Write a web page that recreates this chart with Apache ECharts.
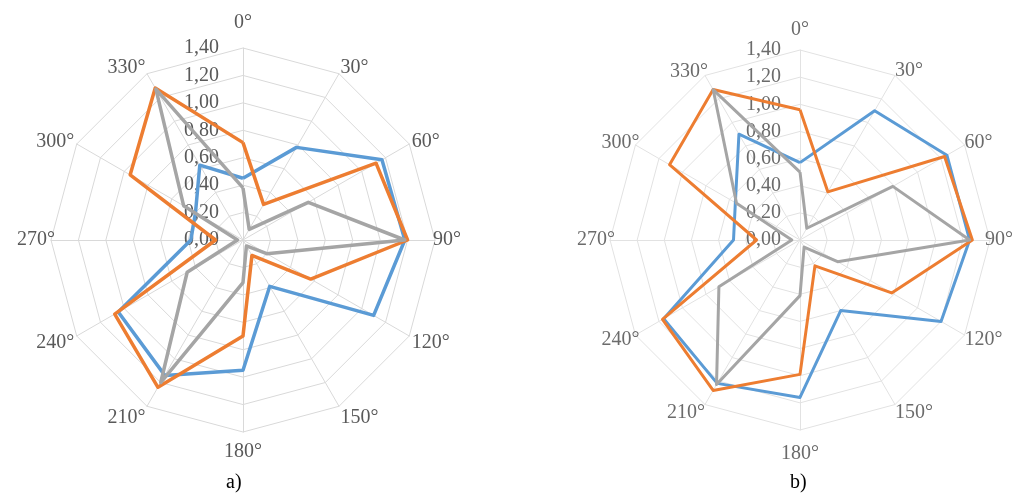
<!DOCTYPE html>
<html>
<head>
<meta charset="utf-8">
<script src="https://cdn.jsdelivr.net/npm/echarts@6/dist/echarts.min.js"></script>
<style>
  html, body { margin: 0; padding: 0; background: #fff; }
  #wrap { position: relative; width: 1017px; height: 494px; overflow: hidden; }
  #chartA { position: absolute; left: 0; top: 0; width: 510px; height: 494px; }
  #chartB { position: absolute; left: 510px; top: 0; width: 507px; height: 494px; filter: blur(0.6px); }
</style>
</head>
<body>
<div id="wrap">
  <div id="chartA"></div>
  <div id="chartB"></div>
</div>
<script>
// Direction labels, clockwise from the top
const directions = ['0°', '30°', '60°', '90°', '120°', '150°', '180°', '210°', '240°', '270°', '300°', '330°'];

// Radial scale
const radialMin = 0;
const radialMax = 1.4;
const radialStep = 0.2;

// Panel a)
const aBlue   = [0.45, 0.78, 1.17, 1.18, 1.10, 0.39, 0.95, 1.14, 1.05, 0.38, 0.40, 0.63];
const aOrange = [0.71, 0.30, 1.12, 1.20, 0.57, 0.13, 0.70, 1.24, 1.08, 0.20, 0.95, 1.28];
const aGray   = [0.38, 0.09, 0.55, 1.18, 0.20, 0.05, 0.31, 1.20, 0.47, 0.04, 0.50, 1.27];

// Panel b)
const bBlue   = [0.57, 1.10, 1.25, 1.25, 1.20, 0.60, 1.16, 1.22, 1.16, 0.49, 0.55, 0.90];
const bOrange = [0.96, 0.41, 1.23, 1.27, 0.78, 0.22, 0.99, 1.28, 1.17, 0.32, 1.11, 1.28];
const bGray   = [0.50, 0.10, 0.79, 1.25, 0.32, 0.06, 0.41, 1.23, 0.69, 0.06, 0.54, 1.28];

const colors = ['#5B9BD5', '#ED7D31', '#A5A5A5'];
const serif = '"Liberation Serif", "DejaVu Serif", serif';

// Per-direction padding [top, right, bottom, left] that nudges each
// compass label so its nearest corner sits on the outer ring.
const namePadA = {
  '0°': [0, 0, 12, 0],  '30°': [0, 0, 6, 0],   '60°': [0, 0, 2, 0],
  '90°': [0, 0, 0, -5], '120°': [10, 0, 0, 0], '150°': [18, 0, 0, 0],
  '180°': [7, 0, 0, 0], '210°': [18, 0, 0, 0], '240°': [10, 0, 0, 0],
  '270°': [0, -7, 0, 0], '300°': [0, 0, 2, 0], '330°': [0, 0, 6, 0]
};
const namePadB = {
  '0°': [0, 0, 10, 0],  '30°': [0, 0, 10, 0],  '60°': [0, 0, 4, 0],
  '90°': [0, 0, 0, -5], '120°': [10, 0, 0, 0], '150°': [16, 0, 0, 0],
  '180°': [14, 0, 0, 0], '210°': [16, 0, 0, 0], '240°': [10, -4, 0, 0],
  '270°': [0, -5, 0, 0], '300°': [0, -4, 4, 0], '330°': [0, -3, 8, 0]
};

// ECharts lays radar indicators out counter-clockwise, so walk the
// directions in reverse (after 0°) to get a clockwise compass.
const order = directions.map((_, i) => (directions.length - i) % directions.length);
const reorder = arr => order.map(i => arr[i]);

function fmt(v) {
  return v.toFixed(2).replace('.', ',');
}

const richKey = name => 'd' + parseInt(name, 10);

function buildOption(cfg) {
  const indicator = order.map((i, k) => {
    const ind = { name: directions[i], min: radialMin, max: radialMax };
    if (k === 0) {
      ind.axisLabel = {
        show: true,
        color: cfg.textColor,
        fontFamily: serif,
        fontSize: 20,
        margin: cfg.labelMargin,
        formatter: fmt
      };
    }
    return ind;
  });
  const nameStyle = { color: cfg.textColor, fontFamily: serif, fontSize: 20 };
  const rich = {};
  directions.forEach(d => {
    rich[richKey(d)] = Object.assign({}, nameStyle, { padding: cfg.namePad[d] });
  });
  return {
    animation: false,
    title: {
      text: cfg.caption,
      left: cfg.captionX,
      top: 468,
      textStyle: { fontFamily: serif, fontSize: 20, fontWeight: 'normal', color: '#000' }
    },
    radar: {
      center: cfg.center,
      radius: cfg.radius,
      startAngle: 90,
      shape: 'polygon',
      splitNumber: Math.round((radialMax - radialMin) / radialStep),
      indicator: indicator,
      nameGap: cfg.nameGap,
      axisName: Object.assign({}, nameStyle, {
        formatter: name => '{' + richKey(name) + '|' + name + '}',
        rich: rich
      }),
      axisLine: { lineStyle: { color: cfg.gridColor, width: 1 } },
      splitLine: { lineStyle: { color: cfg.gridColor, width: 1 } },
      splitArea: { show: false },
      axisTick: { show: false },
      axisLabel: { show: false }
    },
    series: [{
      type: 'radar',
      symbol: 'none',
      silent: true,
      data: cfg.values.map((vals, s) => ({
        name: 'Series ' + (s + 1),
        value: reorder(vals),
        lineStyle: { color: colors[s], width: cfg.lineWidth },
        itemStyle: { color: colors[s] }
      }))
    }]
  };
}

const chartA = echarts.init(document.getElementById('chartA'), null, { renderer: 'canvas' });
chartA.setOption(buildOption({
  caption: 'a)', captionX: 221,
  center: [243, 240], radius: 192, nameGap: 3, namePad: namePadA, labelMargin: 24,
  textColor: '#595959', gridColor: '#D9D9D9', lineWidth: 3.5,
  values: [aBlue, aOrange, aGray]
}));

const chartB = echarts.init(document.getElementById('chartB'), null, { renderer: 'canvas' });
chartB.setOption(buildOption({
  caption: 'b)', captionX: 275,
  center: [290, 240], radius: 190, nameGap: 0, namePad: namePadB, labelMargin: 19,
  textColor: '#6b6b6b', gridColor: '#E2E2E2', lineWidth: 3,
  values: [bBlue, bOrange, bGray]
}));
</script>
</body>
</html>
